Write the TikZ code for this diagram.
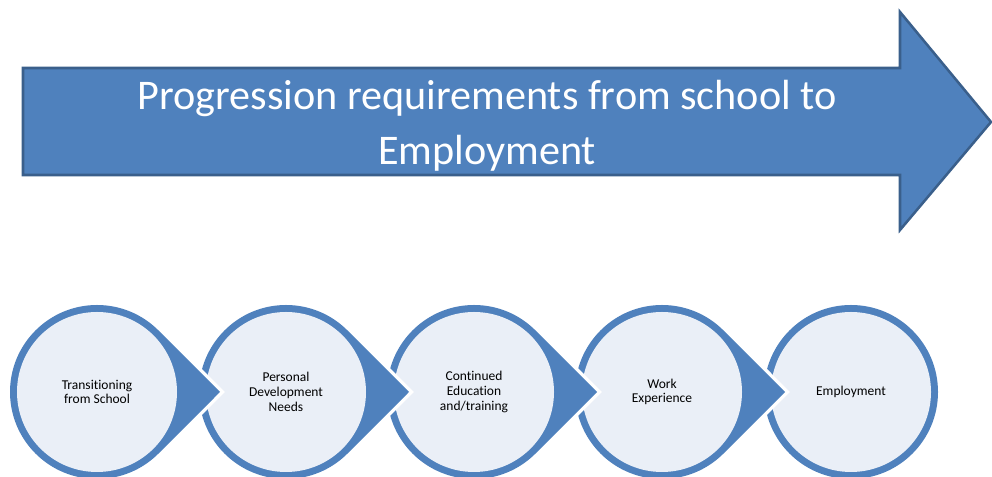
\documentclass[tikz,border=0pt]{standalone}
\usepackage{fontspec}
\setmainfont{Carlito}[Ligatures=NoCommon]
\usetikzlibrary{calc}

\definecolor{officeblue}{HTML}{4F81BD}
\definecolor{officeedge}{HTML}{3A5F8B}
\definecolor{paleblue}{HTML}{EAEFF7}

\begin{document}
\begin{tikzpicture}
	[x=0.025cm,y=0.025cm,
	bigarrow/.style={fill=officeblue, draw=officeedge, line width=1.8pt, line join=miter},
	stepshape/.style={fill=officeblue, preaction={draw=white, line width=5pt}},
	steplabel/.style={align=center, font=\fontsize{9.6}{10.5}\selectfont, text=black},
	titlelabel/.style={align=center, text=white, font=\fontsize{30}{39}\selectfont}];

	\useasboundingbox (0,0) rectangle (992,477);

	%Arrow
	\coordinate (tl) at (23,409);
	\coordinate (bl) at (23,302);
	\coordinate (tip) at (991,355);
	\draw[bigarrow] (tl) -- (900,409) -- (900,465) -- (tip) -- (900,247) -- (900,302) -- (bl) -- cycle;
	\node[titlelabel] (title) at (487,351) {Progression requirements from school to\\Employment};

	%Steps (drawn from the right, so each pointer lies over the next circle)
	\foreach \cx/\tear in {851/0,662/1,474/1,286/1,97/1}{
		\ifnum\tear=1
			\path[stepshape] ($(\cx,85)+(123,0)$) -- ($(\cx,85)+(45:87)$) arc[start angle=45, end angle=315, radius=87] -- cycle;
		\else
			\path[stepshape] (\cx,85) circle (87);
		\fi
		\fill[paleblue] (\cx,85) circle (80);
	}

	\node[steplabel] (school) at (97,85) {Transitioning\\from School};
	\node[steplabel] (personal) at (286,85) {Personal\\Development\\Needs};
	\node[steplabel] (education) at (474,85) {Continued\\Education\\and/training};
	\node[steplabel] (work) at (662,85) {Work\\Experience};
	\node[steplabel] (employment) at (851,85) {Employment};
\end{tikzpicture}
\end{document}
